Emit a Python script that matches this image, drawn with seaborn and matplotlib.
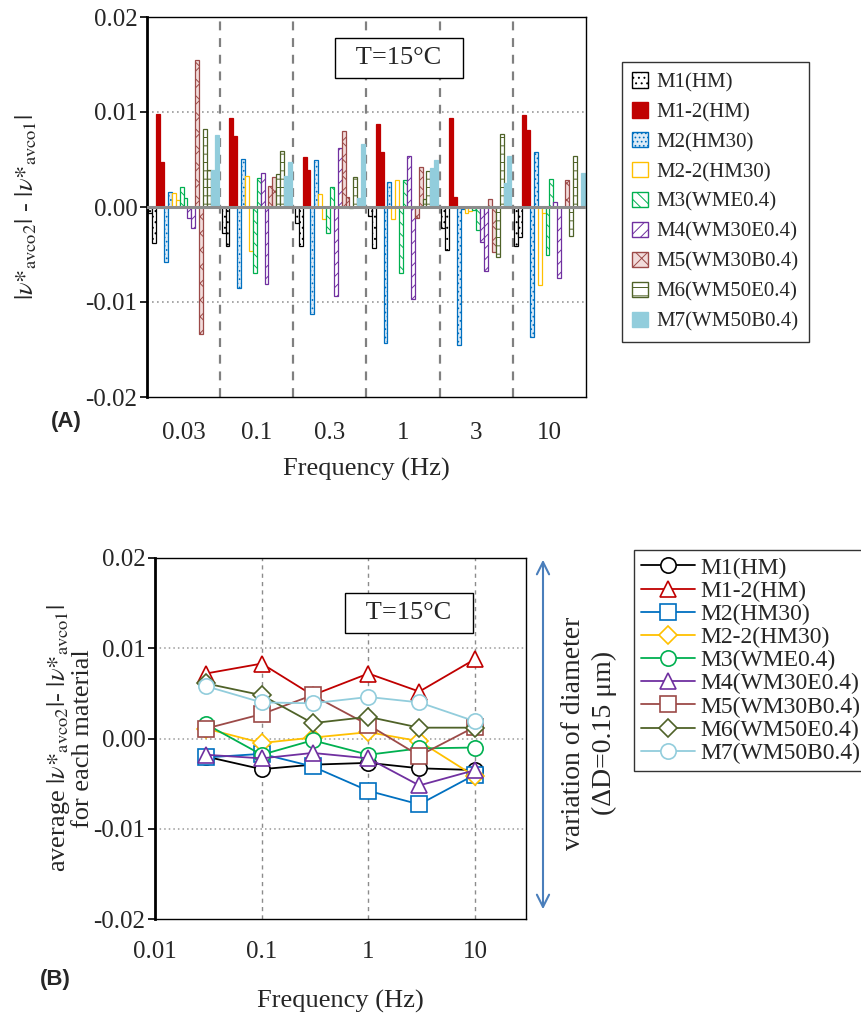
import numpy as np
import pandas as pd
import matplotlib
matplotlib.use("Agg")
import matplotlib.pyplot as plt
import seaborn as sns
from matplotlib.patches import Patch
from matplotlib.ticker import FuncFormatter, NullLocator

# ---------------- data ----------------
freq_labels = ['0.03', '0.1', '0.3', '1', '3', '10']
freq_values = [0.03, 0.1, 0.3, 1, 3, 10]
materials = ['M1(HM)', 'M1-2(HM)', 'M2(HM30)', 'M2-2(HM30)', 'M3(WME0.4)',
             'M4(WM30E0.4)', 'M5(WM30B0.4)', 'M6(WM50E0.4)', 'M7(WM50B0.4)']

# first bar of each material pair (per frequency)
bar_first = [
    [-0.0006, -0.0027, -0.0017, -0.0009, -0.0022, -0.0041],
    [0.0098, 0.0094, 0.0053, 0.0087, 0.0094, 0.0097],
    [-0.0058, -0.0085, -0.0113, -0.0143, -0.0145, -0.0137],
    [0.0015, 0.0033, 0.0014, -0.0013, -0.0006, -0.0082],
    [0.0021, -0.0069, -0.0027, -0.0069, -0.0003, -0.0050],
    [-0.0012, 0.0036, -0.0094, 0.0054, -0.0037, 0.0005],
    [0.0155, 0.0022, 0.0080, -0.0012, 0.0008, 0.0000],
    [0.0082, 0.0035, -0.0001, 0.0008, -0.0053, -0.0031],
    [0.0039, 0.0033, 0.0010, 0.0041, 0.0025, 0.0000],
]
# second bar of each material pair
bar_second = [
    [-0.0038, -0.0041, -0.0041, -0.0043, -0.0045, -0.0032],
    [0.0047, 0.0075, 0.0039, 0.0058, 0.0011, 0.0081],
    [0.0016, 0.0051, 0.0049, 0.0026, -0.0002, 0.0058],
    [0.0007, -0.0046, -0.0013, 0.0028, -0.0004, -0.0006],
    [0.0010, 0.0031, 0.0021, 0.0028, -0.0024, 0.0030],
    [-0.0022, -0.0081, 0.0062, -0.0097, -0.0067, -0.0075],
    [-0.0134, 0.0032, 0.0011, 0.0042, -0.0047, 0.0028],
    [0.0039, 0.0059, 0.0032, 0.0038, 0.0077, 0.0054],
    [0.0076, 0.0047, 0.0066, 0.0050, 0.0054, 0.0036],
]
# averages per material (panel B)
avg_values = [
    [-0.0020, -0.0034, -0.0029, -0.0027, -0.0033, -0.0035],
    [0.0072, 0.0083, 0.0048, 0.0072, 0.0052, 0.0088],
    [-0.0021, -0.0017, -0.0031, -0.0058, -0.0073, -0.0040],
    [0.0011, -0.0005, 0.0001, 0.0007, -0.0003, -0.0042],
    [0.0016, -0.0018, -0.0002, -0.0018, -0.0011, -0.0010],
    [-0.0018, -0.0022, -0.0016, -0.0022, -0.0052, -0.0035],
    [0.0011, 0.0027, 0.0048, 0.0015, -0.0019, 0.0013],
    [0.0061, 0.0048, 0.0017, 0.0024, 0.0012, 0.0012],
    [0.0058, 0.0040, 0.0039, 0.0046, 0.0040, 0.0019],
]

# ---------------- styles ----------------
colors = ['#000000', '#C00000', '#0070C0', '#FFC000', '#00B050',
          '#7030A0', '#9C4A48', '#4F6228', '#92CDDC']
faces = ['white', '#C00000', '#DDEBF7', 'white', 'white',
         'white', '#F2DCDB', 'white', '#92CDDC']
hatches = ['...', None, '....', None, '\\\\\\', '///', 'xx', '--', '++']
markers = ['o', '^', 's', 'D', 'o', '^', 's', 'D', 'o']

sns.set_theme(style='white')
plt.rcParams['font.family'] = ['Liberation Serif', 'DejaVu Serif']
plt.rcParams['mathtext.fontset'] = 'stix'
plt.rcParams['axes.unicode_minus'] = False
plt.rcParams['hatch.linewidth'] = 0.7

TICK_FS = 18
LAB_FS = 19

fig = plt.figure(figsize=(8.62, 10.17), dpi=100)
ax1 = fig.add_axes([147/862, 1-397/1017, 439/862, 380/1017])
ax2 = fig.add_axes([155/862, 1-919/1017, 371/862, 361/1017])

nu1 = r'$|\nu\mathrm{*}_{\mathrm{avco2}}|$'
nu2 = r'$|\nu\mathrm{*}_{\mathrm{avco1}}|$'

# ---------------- panel A: bars ----------------
rows = []
series_order = []
for mi, m in enumerate(materials):
    for rep, arr in ((1, bar_first), (2, bar_second)):
        s = f'{m}#{rep}'
        series_order.append(s)
        for fi, f in enumerate(freq_labels):
            rows.append({'freq': f, 'series': s, 'value': arr[mi][fi]})
df_bar = pd.DataFrame(rows)
pal_bar = {s: colors[i // 2] for i, s in enumerate(series_order)}

sns.barplot(data=df_bar, x='freq', y='value', hue='series', order=freq_labels,
            hue_order=series_order, palette=pal_bar, width=0.96, gap=0,
            errorbar=None, legend=False, saturation=1, ax=ax1)
for i, cont in enumerate(ax1.containers):
    mi = i // 2
    for p in cont:
        p.set_facecolor(faces[mi])
        p.set_edgecolor(colors[mi])
        p.set_linewidth(0.9)
        if hatches[mi]:
            p.set_hatch(hatches[mi])
        p.set_zorder(2)

ax1.set_xlim(-0.5, 5.5)
ax1.set_ylim(-0.02, 0.02)
ax1.axhline(0, color='#8c8c8c', lw=2.2, zorder=3)
for y in (0.01, -0.01):
    ax1.axhline(y, color='#9a9a9a', ls=(0, (1, 2)), lw=1.2, zorder=0.5)
for x in np.arange(0.5, 5.0, 1.0):
    ax1.axvline(x, color='#808080', ls=(0, (4, 3.5)), lw=1.6, zorder=0.5)
ax1.set_yticks([-0.02, -0.01, 0, 0.01, 0.02])
ax1.yaxis.set_major_formatter(FuncFormatter(lambda v, p: f'{v:.2f}'))
ax1.tick_params(axis='y', labelsize=TICK_FS, length=5, width=1.2, direction='out', left=True, color='black', pad=2)
ax1.tick_params(axis='x', labelsize=TICK_FS, length=0, pad=18)
ax1.set_xlabel('Frequency (Hz)', fontsize=LAB_FS, labelpad=10)
ax1.set_ylabel(nu1 + ' - ' + nu2, fontsize=LAB_FS)
ax1.yaxis.set_label_coords(-0.245, 0.5)
for sp in ax1.spines.values():
    sp.set_color('black')
    sp.set_linewidth(1.0)
ax1.spines['left'].set_linewidth(2.0)

legend_handles = [Patch(facecolor=faces[i], edgecolor=colors[i], hatch=hatches[i] or '',
                        linewidth=1.0) for i in range(len(materials))]
leg1 = fig.legend(legend_handles, materials, loc='upper left',
                  bbox_to_anchor=(622/862, 1-62/1017), fontsize=15, frameon=True,
                  fancybox=False, edgecolor='black', handlelength=0.75, handleheight=0.75,
                  labelspacing=0.48, handletextpad=0.4, borderpad=0.5, borderaxespad=0)
leg1.get_frame().set_linewidth(1.0)

fig.text(399/862, 1-58/1017, '  T=15°C  ', fontsize=19, ha='center', va='center',
         bbox=dict(boxstyle='square,pad=0.33', fc='white', ec='black', lw=1.0))
fig.text(66/862, 1-421/1017, '(A)', fontsize=16, fontweight='bold',
         family=['Liberation Sans', 'DejaVu Sans'], ha='center', va='center')

# ---------------- panel B: lines ----------------
rows2 = []
for mi, m in enumerate(materials):
    for fi, f in enumerate(freq_values):
        rows2.append({'freq': f, 'material': m, 'value': avg_values[mi][fi]})
df_line = pd.DataFrame(rows2)

ax2.set_xscale('log')
sns.lineplot(data=df_line, x='freq', y='value', hue='material', style='material',
             hue_order=materials, style_order=materials,
             palette=dict(zip(materials, colors)), markers=dict(zip(materials, markers)),
             dashes=False, errorbar=None, legend=False, markersize=11, linewidth=1.3,
             ax=ax2)
line_handles = list(ax2.lines[:len(materials)])
for ln, m in zip(line_handles, markers):
    c = ln.get_color()
    ln.set_markeredgecolor(c)
    ln.set_markerfacecolor('white')
    ln.set_markeredgewidth(1.2)
    if m == 'D':
        ln.set_markersize(9)
    ln.set_zorder(3)

ax2.set_xlim(0.01, 30)
ax2.set_ylim(-0.02, 0.02)
for y in (0.01, 0.0, -0.01):
    ax2.axhline(y, color='#9a9a9a', ls=(0, (1, 2)), lw=1.1, zorder=0.5)
for x in (0.1, 1, 10):
    ax2.axvline(x, color='#8c8c8c', ls=(0, (3, 3)), lw=1.0, zorder=0.5)
ax2.set_xticks([0.01, 0.1, 1, 10])
ax2.xaxis.set_minor_locator(NullLocator())
ax2.xaxis.set_major_formatter(FuncFormatter(lambda v, p: f'{v:g}'))
ax2.set_yticks([-0.02, -0.01, 0, 0.01, 0.02])
ax2.yaxis.set_major_formatter(FuncFormatter(lambda v, p: f'{v:.2f}'))
ax2.tick_params(axis='y', labelsize=TICK_FS, length=5, width=1.2, direction='out', left=True, color='black', pad=2)
ax2.tick_params(axis='x', labelsize=TICK_FS, length=0, pad=16)
ax2.set_xlabel('Frequency (Hz)', fontsize=LAB_FS, labelpad=19)
ax2.set_ylabel('average ' + nu1 + '- ' + nu2 + '\nfor each material',
               fontsize=LAB_FS, linespacing=1.0)
ax2.yaxis.set_label_coords(-0.165, 0.5)
for sp in ax2.spines.values():
    sp.set_color('black')
    sp.set_linewidth(1.0)
ax2.spines['left'].set_linewidth(2.0)

leg2 = fig.legend(line_handles, materials, loc='upper left',
                  bbox_to_anchor=(634/862, 1-550/1017), fontsize=17, frameon=True,
                  fancybox=False, edgecolor='black', handlelength=2.3,
                  labelspacing=0.07, handletextpad=0.2, borderpad=0.3, borderaxespad=0)
leg2.get_frame().set_linewidth(1.0)

fig.text(409/862, 1-613/1017, '  T=15°C  ', fontsize=19, ha='center', va='center',
         bbox=dict(boxstyle='square,pad=0.33', fc='white', ec='black', lw=1.0))
fig.text(55/862, 1-980/1017, '(B)', fontsize=16, fontweight='bold',
         family=['Liberation Sans', 'DejaVu Sans'], ha='center', va='center')

fig.patches.append(matplotlib.patches.FancyArrowPatch(
    (543/862, 1-912/1017), (543/862, 1-557/1017), transform=fig.transFigure,
    arrowstyle='<->', mutation_scale=22, color='#4A7EBB', lw=1.5))
fig.text(573/862, 1-733/1017, 'variation of diameter', rotation=90, fontsize=20,
         ha='center', va='center')
fig.text(604/862, 1-733/1017, '(ΔD=0.15 μm)', rotation=90, fontsize=20,
         ha='center', va='center')

fig.savefig('out.png', dpi=100)
